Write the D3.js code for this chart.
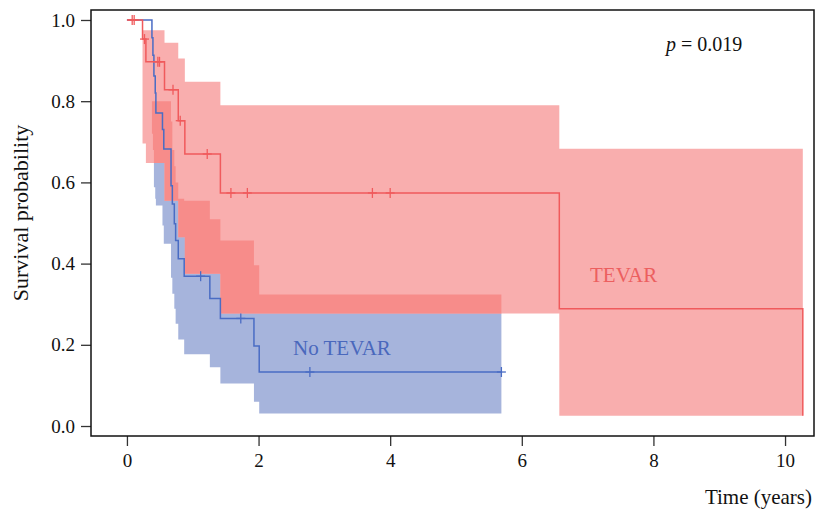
<!DOCTYPE html>
<html>
<head>
<meta charset="utf-8">
<script src="https://d3js.org/d3.v7.min.js"></script>
<style>
  body { margin: 0; background: #fff; }
  text { font-family: "Liberation Serif", "Times New Roman", serif; }
</style>
</head>
<body>
<div id="km"></div>
<script>
// TEVAR group (Kaplan-Meier steps)
const tevarTime  = [0, 0.237, 0.288, 0.571, 0.78, 0.88, 1.42, 6.57, 10.27];
const tevarSurv  = [1, 0.953, 0.897, 0.828, 0.752, 0.670, 0.574, 0.289, 0.025];
const tevarUpper = [1, 0.975, 0.975, 0.944, 0.905, 0.848, 0.790, 0.683, 0.683];
const tevarLower = [1, 0.696, 0.648, 0.555, 0.465, 0.375, 0.277, 0.025, 0.025];
const tevarEnd = 10.27;
const tevarCensor = [0.08, 0.11, 0.267, 0.47, 0.495, 0.70, 0.81, 1.22, 1.58, 1.83, 3.73, 4.0];

// No TEVAR group
const noTime  = [0, 0.38, 0.395, 0.41, 0.43, 0.44, 0.54, 0.56, 0.67, 0.69, 0.72, 0.74, 0.78, 0.87, 1.26, 1.42, 1.93, 2.01];
const noSurv  = [1, 0.956, 0.913, 0.862, 0.820, 0.771, 0.730, 0.682, 0.592, 0.547, 0.498, 0.457, 0.412, 0.369, 0.314, 0.265, 0.197, 0.133];
const noUpper = [1, 0.80, 0.80, 0.80, 0.80, 0.80, 0.80, 0.80, 0.75, 0.68, 0.64, 0.60, 0.56, 0.555, 0.509, 0.457, 0.396, 0.324];
const noLower = [1, 0.72, 0.68, 0.588, 0.56, 0.543, 0.494, 0.449, 0.365, 0.326, 0.289, 0.252, 0.213, 0.177, 0.145, 0.105, 0.060, 0.031];
const noEnd = 5.69;
const noCensor = [1.12, 1.73, 2.78, 5.69];

const xTicks = [0, 2, 4, 6, 8, 10];
const yTicks = [0, 0.2, 0.4, 0.6, 0.8, 1.0];

const W = 821, H = 514;
const plot = {left: 91, top: 10, right: 814, bottom: 436};

const svg = d3.select("#km").append("svg")
  .attr("width", W).attr("height", H);

const x = d3.scaleLinear().domain([-0.546, 10.44]).range([plot.left, plot.right]);
const y = d3.scaleLinear().domain([-0.0246, 1.0246]).range([plot.bottom, plot.top]);

function steps(time, surv, upper, lower, end) {
  const pts = time.map((t, i) => ({t: t, s: surv[i], up: upper[i], lo: lower[i]}));
  const last = pts[pts.length - 1];
  if (end > last.t) pts.push({t: end, s: last.s, up: last.up, lo: last.lo});
  return pts;
}

const tevar = steps(tevarTime, tevarSurv, tevarUpper, tevarLower, tevarEnd);
const noTevar = steps(noTime, noSurv, noUpper, noLower, noEnd);

const band = d3.area()
  .curve(d3.curveStepAfter)
  .x(d => x(d.t))
  .y0(d => y(d.lo))
  .y1(d => y(d.up));

const line = d3.line()
  .curve(d3.curveStepAfter)
  .x(d => x(d.t))
  .y(d => y(d.s));

// clip for where the two bands overlap
svg.append("clipPath").attr("id", "blueBand")
  .append("path").attr("d", band(noTevar));

svg.append("path").attr("d", band(noTevar)).attr("fill", "#a6b4dc");
svg.append("path").attr("d", band(tevar)).attr("fill", "#f9aeae");
svg.append("path").attr("d", band(tevar)).attr("fill", "#f78c8a")
  .attr("clip-path", "url(#blueBand)");

svg.append("path").datum(noTevar)
  .attr("fill", "none").attr("stroke", "#4a6cc4").attr("stroke-width", 1.5)
  .attr("d", line);
svg.append("path").datum(tevar)
  .attr("fill", "none").attr("stroke", "#f05a5c").attr("stroke-width", 1.5)
  .attr("d", line);

// censor marks
function survAt(time, surv, t) {
  let v = surv[0];
  time.forEach((tt, i) => { if (tt <= t) v = surv[i]; });
  return v;
}
function drawCensor(ts, time, surv, color) {
  const g = svg.append("g").attr("stroke", color).attr("stroke-width", 1.3);
  ts.forEach(t => {
    const cx = x(t), cy = y(survAt(time, surv, t));
    g.append("line").attr("x1", cx - 4.5).attr("x2", cx + 4.5).attr("y1", cy).attr("y2", cy);
    g.append("line").attr("x1", cx).attr("x2", cx).attr("y1", cy - 5).attr("y2", cy + 5);
  });
}
drawCensor(noCensor, noTime, noSurv, "#4a6cc4");
drawCensor(tevarCensor, tevarTime, tevarSurv, "#f05a5c");

// axes
const xAxis = svg.append("g")
  .attr("transform", `translate(0,${plot.bottom})`)
  .call(d3.axisBottom(x).tickValues(xTicks).tickFormat(d3.format("d")).tickSize(10).tickPadding(8));
const yAxis = svg.append("g")
  .attr("transform", `translate(${plot.left},0)`)
  .call(d3.axisLeft(y).tickValues(yTicks).tickFormat(d3.format(".1f")).tickSize(10).tickPadding(6));
[xAxis, yAxis].forEach(a => {
  a.select(".domain").remove();
  a.selectAll("line").attr("stroke", "#333").attr("stroke-width", 1.3);
  a.selectAll("text").attr("fill", "#111").style("font-size", "19px")
    .style("font-family", "'Liberation Serif', serif");
});

// frame
svg.append("rect")
  .attr("x", plot.left).attr("y", plot.top)
  .attr("width", plot.right - plot.left).attr("height", plot.bottom - plot.top)
  .attr("fill", "none").attr("stroke", "#111").attr("stroke-width", 1.5);

// labels
svg.append("text")
  .attr("transform", `translate(28,${(plot.top + plot.bottom) / 2 - 10}) rotate(-90)`)
  .attr("text-anchor", "middle").style("font-size", "22px").attr("fill", "#111")
  .text("Survival probability");
svg.append("text")
  .attr("x", 812).attr("y", 504).attr("text-anchor", "end")
  .style("font-size", "21px").attr("fill", "#111")
  .text("Time (years)");

const pText = svg.append("text").attr("x", 666).attr("y", 51).style("font-size", "20px").attr("fill", "#111");
pText.append("tspan").style("font-style", "italic").text("p");
pText.append("tspan").text(" = 0.019");

svg.append("text").attr("x", 590).attr("y", 282)
  .style("font-size", "21px").attr("fill", "#ec5f5f").text("TEVAR");
svg.append("text").attr("x", 293).attr("y", 355)
  .style("font-size", "21px").attr("fill", "#4a68bc").text("No TEVAR");
</script>
</body>
</html>
